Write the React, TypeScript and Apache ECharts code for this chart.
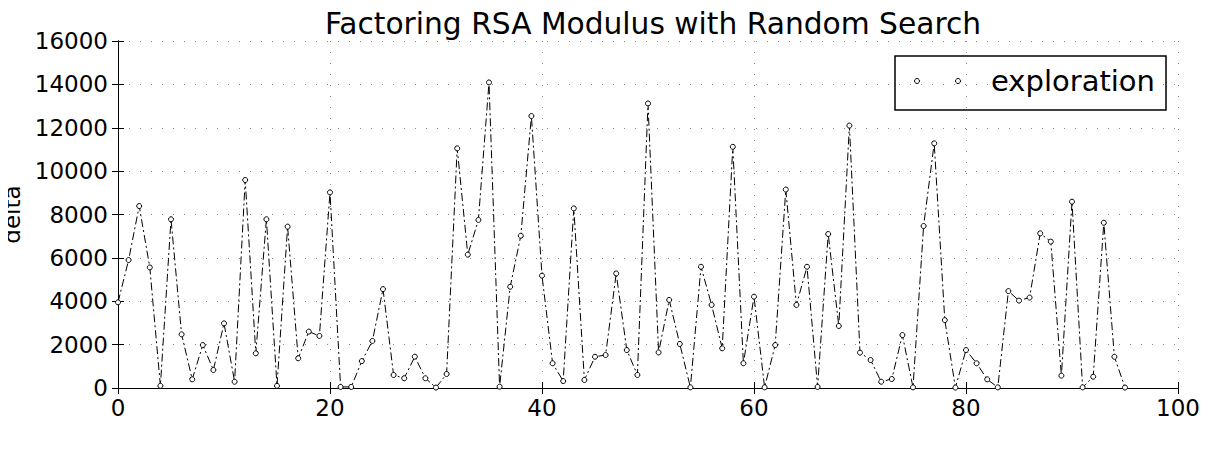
import React, { useEffect, useRef } from "react";
import * as echarts from "echarts";

const steps: number[] = Array.from({ length: 96 }, (_, i) => i);
const deltaValues: number[] = [
  3950, 5900, 8390, 5560, 100, 7780, 2475, 400, 1980, 830,
  2980, 290, 9590, 1600, 7780, 100, 7440, 1370, 2600, 2400,
  9020, 50, 50, 1240, 2170, 4560, 600, 450, 1445, 450,
  20, 645, 11050, 6150, 7750, 14090, 60, 4670, 7020, 12540,
  5180, 1140, 320, 8280, 370, 1440, 1520, 5280, 1750, 600,
  13120, 1640, 4060, 2030, 30, 5590, 3830, 1830, 11120, 1140,
  4210, 30, 1980, 9150, 3830, 5590, 50, 7100, 2860, 12100,
  1630, 1290, 290, 415, 2440, 30, 7470, 11280, 3130, 20,
  1750, 1140, 400, 30, 4470, 4030, 4170, 7130, 6750, 570,
  8590, 30, 520, 7620, 1440, 20,
];
const xTicks = { min: 0, max: 100, interval: 20 };
const yTicks = { min: 0, max: 16000, interval: 2000 };
const titleText = "Factoring RSA Modulus with Random Search";
const yName = "delta";
const seriesName = "exploration";

const FONT = "DejaVu Sans";

export default function App() {
  const ref = useRef<HTMLDivElement>(null);
  useEffect(() => {
    if (!ref.current) return;
    const chart = echarts.init(ref.current, undefined, { renderer: "svg" });
    const frameLine = { show: true, lineStyle: { color: "#000", width: 1 } };
    const grid = { show: true, lineStyle: { color: "#888", width: 1, type: [1, 10] as any } };
    const tick = { show: true, inside: true, length: 6, lineStyle: { color: "#000" } };
    const plain = (v: number) => String(v);
    chart.setOption({
      animation: false,
      backgroundColor: "#fff",
      title: {
        text: titleText,
        left: 648,
        textAlign: "center",
        top: 3,
        textStyle: { fontFamily: FONT, fontSize: 29.7, fontWeight: "normal", color: "#000" },
      },
      grid: { left: 118, right: 30, top: 41, bottom: 62, containLabel: false, outerBoundsMode: "none" } as any,
      xAxis: [
        {
          type: "value",
          ...xTicks,
          position: "bottom",
          axisLine: frameLine,
          axisTick: tick,
          axisLabel: { fontFamily: FONT, fontSize: 23, color: "#000", margin: 8, formatter: plain },
          splitLine: grid,
        },
        {
          type: "value",
          ...xTicks,
          position: "top",
          axisLine: frameLine,
          axisTick: tick,
          axisLabel: { show: false },
          splitLine: { show: false },
        },
      ],
      yAxis: [
        {
          type: "value",
          ...yTicks,
          position: "left",
          name: yName,
          nameLocation: "middle",
          nameGap: 91,
          nameTextStyle: { fontFamily: FONT, fontSize: 23, color: "#000" },
          axisLine: frameLine,
          axisTick: tick,
          axisLabel: { fontFamily: FONT, fontSize: 23, color: "#000", margin: 10, formatter: plain },
          splitLine: grid,
        },
        {
          type: "value",
          ...yTicks,
          position: "right",
          axisLine: frameLine,
          axisTick: tick,
          axisLabel: { show: false },
          splitLine: { show: false },
        },
      ],
      series: [
        {
          name: seriesName,
          type: "line",
          data: steps.map((s, i) => [s, deltaValues[i]]),
          symbol: "circle",
          symbolSize: 5,
          showAllSymbol: true,
          lineStyle: { color: "#000", width: 1, type: [8, 3, 2, 3] as any },
          itemStyle: { color: "#fff", borderColor: "#000", borderWidth: 1 },
          z: 3,
        },
      ],
      graphic: [
        {
          type: "group",
          z: 100,
          children: [
            {
              type: "rect",
              shape: { x: 895, y: 56, width: 271, height: 54 },
              style: { fill: "#fff", stroke: "#000", lineWidth: 1.5 },
            },
            { type: "circle", shape: { cx: 917, cy: 81, r: 2.5 }, style: { fill: "#fff", stroke: "#000", lineWidth: 1 } },
            { type: "circle", shape: { cx: 958, cy: 81, r: 2.5 }, style: { fill: "#fff", stroke: "#000", lineWidth: 1 } },
            {
              type: "text",
              x: 991,
              y: 81,
              style: {
                text: seriesName,
                font: `29px "${FONT}"`,
                fill: "#000",
                verticalAlign: "middle",
                align: "left",
              },
            },
          ],
        },
      ],
    });
    return () => chart.dispose();
  }, []);
  return <div ref={ref} style={{ width: 1208, height: 450, margin: -8 }} />;
}
